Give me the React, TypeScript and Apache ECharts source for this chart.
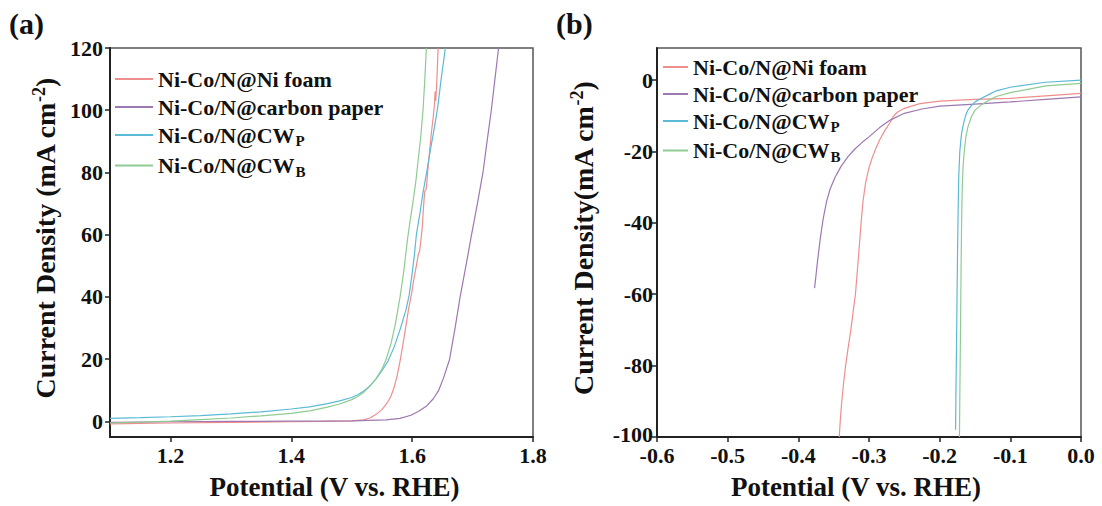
import React, { useEffect, useRef } from 'react';
import * as echarts from 'echarts';

// Sample names and colours (shared by both panels)
const sampleNames = ['Ni-Co/N@Ni foam', 'Ni-Co/N@carbon paper', 'Ni-Co/N@CWP', 'Ni-Co/N@CWB'];
const sampleColors = ['#EF8E8E', '#9E78B0', '#5BBAD5', '#8FCB92'];

// Axis tick values
const oerXTicks = [1.2, 1.4, 1.6, 1.8];
const oerYTicks = [0, 20, 40, 60, 80, 100, 120];
const herXTicks = [-0.6, -0.5, -0.4, -0.3, -0.2, -0.1, 0];
const herYTicks = [-100, -80, -60, -40, -20, 0];

// (a) OER polarization curves: [potential V vs RHE, current density mA cm-2]
const niFoamOer = [
  [1.10, -0.8], [1.20, -0.5], [1.30, -0.3], [1.40, -0.1], [1.45, 0], [1.50, 0.2],
  [1.52, 0.5], [1.53, 1.1], [1.54, 2.2], [1.55, 3.8], [1.555, 5], [1.56, 6.4],
  [1.565, 8.2], [1.57, 10.8], [1.575, 14.5], [1.5806, 20], [1.585, 25], [1.59, 31],
  [1.594, 36], [1.599, 41], [1.603, 46], [1.607, 50], [1.610, 53.5], [1.6126, 55],
  [1.615, 59], [1.617, 63], [1.6185, 68], [1.620, 72], [1.621, 74], [1.623, 74.5],
  [1.624, 76], [1.626, 81], [1.629, 87], [1.632, 93], [1.635, 98], [1.637, 102],
  [1.638, 106], [1.639, 103], [1.640, 106], [1.641, 110], [1.642, 115], [1.643, 120],
];
const carbonPaperOer = [
  [1.10, -0.3], [1.20, -0.1], [1.30, 0], [1.40, 0.1], [1.50, 0.2], [1.557, 0.5],
  [1.58, 1.0], [1.598, 2.0], [1.61, 3.2], [1.624, 5.0], [1.635, 7.3], [1.644, 10],
  [1.652, 14], [1.662, 20], [1.671, 30], [1.6794, 40], [1.689, 50], [1.6983, 60],
  [1.708, 70], [1.7172, 80], [1.724, 90], [1.731, 100], [1.737, 110], [1.743, 120],
];
const cwpOer = [
  [1.10, 1.0], [1.15, 1.2], [1.20, 1.5], [1.25, 1.9], [1.30, 2.4], [1.35, 3.1],
  [1.40, 4.0], [1.43, 4.7], [1.46, 5.7], [1.48, 6.6], [1.50, 7.7], [1.51, 8.6],
  [1.52, 9.8], [1.53, 11.4], [1.54, 13.6], [1.55, 16.3], [1.56, 19.4], [1.57, 23.8],
  [1.58, 29.5], [1.59, 36], [1.595, 40.5], [1.600, 47.5], [1.604, 54], [1.607, 60],
  [1.613, 67], [1.618, 73.5], [1.624, 80], [1.630, 87], [1.636, 93.5], [1.642, 100.5],
  [1.648, 110], [1.655, 120],
];
const cwbOer = [
  [1.10, -0.5], [1.15, -0.2], [1.20, 0.1], [1.25, 0.6], [1.30, 1.1], [1.35, 1.8],
  [1.40, 2.6], [1.43, 3.4], [1.46, 4.6], [1.48, 5.6], [1.50, 7.0], [1.51, 8.0],
  [1.52, 9.4], [1.53, 11.3], [1.54, 13.7], [1.55, 16.8], [1.557, 20], [1.565, 25],
  [1.572, 31], [1.580, 40], [1.586, 48], [1.592, 58], [1.597, 65], [1.601, 70],
  [1.606, 77], [1.610, 84], [1.614, 91], [1.618, 100], [1.621, 110], [1.6235, 120],
];

// (b) HER polarization curves
const niFoamHer = [
  [0, -3.7], [-0.05, -4.4], [-0.1, -5.1], [-0.15, -5.4], [-0.2, -5.9], [-0.228, -6.6],
  [-0.25, -7.9], [-0.26, -9.0], [-0.266, -10.3], [-0.27, -11.8], [-0.278, -14.3],
  [-0.285, -16.8], [-0.29, -19], [-0.295, -21.5], [-0.3, -24.5], [-0.305, -29],
  [-0.3085, -34], [-0.311, -39.5], [-0.3135, -46], [-0.3163, -53], [-0.3192, -60],
  [-0.3225, -65], [-0.3257, -70], [-0.3295, -75], [-0.3331, -80], [-0.336, -85],
  [-0.3385, -90], [-0.3405, -95], [-0.3421, -100],
];
const carbonPaperHer = [
  [0, -4.7], [-0.05, -5.4], [-0.1, -6.1], [-0.15, -6.7], [-0.2, -7.3], [-0.225, -8.1],
  [-0.25, -9.3], [-0.27, -11.2], [-0.285, -13.3], [-0.3, -15.9], [-0.31, -17.5],
  [-0.32, -19.3], [-0.33, -21.5], [-0.34, -24.3], [-0.348, -27.2], [-0.355, -30.5],
  [-0.36, -34], [-0.365, -39], [-0.369, -44.5], [-0.373, -51], [-0.377, -58.3],
];
const cwpHer = [
  [0, 0], [-0.05, -0.6], [-0.1, -2.0], [-0.12, -3.0], [-0.13, -4.0], [-0.14, -5.0],
  [-0.15, -6.1], [-0.155, -7.1], [-0.16, -8.4], [-0.163, -9.8], [-0.165, -11.2],
  [-0.167, -12.8], [-0.169, -15], [-0.17, -16.8], [-0.1715, -20], [-0.173, -27],
  [-0.174, -38], [-0.1748, -50], [-0.1755, -62], [-0.1762, -75], [-0.177, -88],
  [-0.1775, -98],
];
const cwbHer = [
  [0, -0.9], [-0.05, -1.6], [-0.1, -3.5], [-0.12, -4.6], [-0.13, -5.6], [-0.14, -6.8],
  [-0.15, -8.4], [-0.155, -10.2], [-0.16, -13.1], [-0.163, -16], [-0.165, -19.6],
  [-0.1668, -24], [-0.168, -30], [-0.169, -40], [-0.1698, -55], [-0.1705, -70],
  [-0.1713, -85], [-0.172, -100],
];

const oerSets = [niFoamOer, carbonPaperOer, cwpOer, cwbOer];
const herSets = [niFoamHer, carbonPaperHer, cwpHer, cwbHer];

const FONT = 'Liberation Serif, Times New Roman, serif';
const INK = '#111';
const AXIS = '#222';

const legendLabel = (name: string) => {
  if (name.endsWith('CWP')) return '{m|Ni-Co/N@CW}{s|P}';
  if (name.endsWith('CWB')) return '{m|Ni-Co/N@CW}{s|B}';
  return `{m|${name}}`;
};

// subscript: top padding pushes the small letter below the main baseline
const legendRich = {
  m: { fontFamily: FONT, fontWeight: 'bold', fontSize: 22, color: INK, lineHeight: 30 },
  s: { fontFamily: FONT, fontWeight: 'bold', fontSize: 15, color: INK, padding: [12, 0, 0, 1] },
};

const titleRich = {
  a: { fontFamily: FONT, fontWeight: 'bold', fontSize: 28, color: INK, lineHeight: 30 },
  s: { fontFamily: FONT, fontWeight: 'bold', fontSize: 18, color: INK, lineHeight: 12, verticalAlign: 'top' },
};

const tickRich = {
  low: { fontFamily: FONT, fontWeight: 'bold', fontSize: 22, color: INK, lineHeight: 17, padding: [0, 0, 6, 0] },
};

const tickLabel = (margin: number, values: number[], fmt: (v: number) => string) => ({
  show: true,
  customValues: values,
  margin,
  fontFamily: FONT,
  fontWeight: 'bold',
  fontSize: 22,
  lineHeight: 17,
  color: INK,
  rich: tickRich,
  formatter: (v: number) => fmt(v),
});

const tickStyle = (values: number[]) => ({
  show: true,
  customValues: values,
  inside: false,
  length: 5,
  lineStyle: { color: AXIS, width: 1.5 },
});

const axisLine = { show: true, onZero: false, lineStyle: { color: AXIS, width: 2 } };

const fmt1 = (v: number) => (Math.abs(v) < 1e-9 ? '0.0' : v.toFixed(1));
const fmt0 = (v: number) => String(Math.round(v));
// the lowest HER label sits a little higher so it clears the -0.6 label below it
const fmtHerY = (v: number) => (v === herYTicks[0] ? `{low|${Math.round(v)}}` : String(Math.round(v)));

export default function App() {
  const ref = useRef<HTMLDivElement>(null);

  useEffect(() => {
    if (!ref.current) return;
    const chart = echarts.init(ref.current, undefined, { renderer: 'svg' });

    const series: any[] = [];
    sampleNames.forEach((name, i) => {
      series.push({
        type: 'line', name, xAxisIndex: 0, yAxisIndex: 0, data: oerSets[i],
        symbol: 'none', showSymbol: false, clip: true,
        lineStyle: { color: sampleColors[i], width: 1.2 }, itemStyle: { color: sampleColors[i] },
      });
      series.push({
        type: 'line', name, xAxisIndex: 1, yAxisIndex: 1, data: herSets[i],
        symbol: 'none', showSymbol: false, clip: true,
        lineStyle: { color: sampleColors[i], width: 1.2 }, itemStyle: { color: sampleColors[i] },
      });
    });

    const legendBase = {
      orient: 'vertical', itemHeight: 1, padding: 0, data: sampleNames, formatter: legendLabel, selectedMode: false,
      textStyle: { fontFamily: FONT, fontWeight: 'bold', fontSize: 22, color: INK, rich: legendRich },
    };

    const option: any = {
      animation: false,
      backgroundColor: '#ffffff',
      grid: [
        { left: 110, top: 48, width: 423, height: 389, show: true, borderColor: '#555', borderWidth: 1.5, backgroundColor: 'transparent' },
        { left: 657, top: 48, width: 424, height: 389, show: true, borderColor: '#555', borderWidth: 1.5, backgroundColor: 'transparent' },
      ],
      xAxis: [
        {
          type: 'value', gridIndex: 0, min: 1.1, max: 1.8,
          axisLine, splitLine: { show: false },
          axisTick: tickStyle(oerXTicks), axisLabel: tickLabel(10, oerXTicks, fmt1),
          name: 'Potential (V vs. RHE)', nameLocation: 'middle', nameGap: 36,
          nameTextStyle: { fontFamily: FONT, fontWeight: 'bold', fontSize: 27, color: INK, padding: [0, 0, 0, 26] },
        },
        {
          type: 'value', gridIndex: 1, min: -0.6, max: 0,
          axisLine, splitLine: { show: false },
          axisTick: tickStyle(herXTicks), axisLabel: tickLabel(10, herXTicks, fmt1),
          name: 'Potential (V vs. RHE)', nameLocation: 'middle', nameGap: 36,
          nameTextStyle: { fontFamily: FONT, fontWeight: 'bold', fontSize: 27, color: INK, padding: [0, 26, 0, 0] },
        },
      ],
      yAxis: [
        {
          type: 'value', gridIndex: 0, min: -5, max: 120,
          axisLine, splitLine: { show: false },
          axisTick: tickStyle(oerYTicks), axisLabel: tickLabel(7, oerYTicks, fmt0),
          name: '{a|Current Density (mA cm}{s|-2}{a|)}', nameLocation: 'middle', nameGap: 50,
          nameTextStyle: { fontFamily: FONT, fontWeight: 'bold', fontSize: 28, color: INK, rich: titleRich, padding: [0, 0, 0, 8] },
        },
        {
          type: 'value', gridIndex: 1, min: -100, max: 9,
          axisLine, splitLine: { show: false },
          axisTick: tickStyle(herYTicks), axisLabel: tickLabel(4, herYTicks, fmtHerY),
          name: '{a|Current Density(mA cm}{s|-2}{a|)}', nameLocation: 'middle', nameGap: 59,
          nameTextStyle: { fontFamily: FONT, fontWeight: 'bold', fontSize: 28, color: INK, rich: titleRich, padding: [0, 0, 0, 8] },
        },
      ],
      legend: [
        { ...legendBase, left: 114, top: 68, itemWidth: 38, itemGap: 6 },
        { ...legendBase, left: 662, top: 56, itemWidth: 25, itemGap: 5 },
      ],
      graphic: [
        { type: 'text', left: 9, top: 8, style: { text: '(a)', font: `bold 30px ${FONT}`, fill: INK } },
        { type: 'text', left: 556, top: 8, style: { text: '(b)', font: `bold 30px ${FONT}`, fill: INK } },
      ],
      series,
    };

    chart.setOption(option);
    return () => chart.dispose();
  }, []);

  return (
    <div
      ref={ref}
      style={{ position: 'fixed', left: 0, top: 0, width: 1102, height: 506, background: '#fff' }}
    />
  );
}
